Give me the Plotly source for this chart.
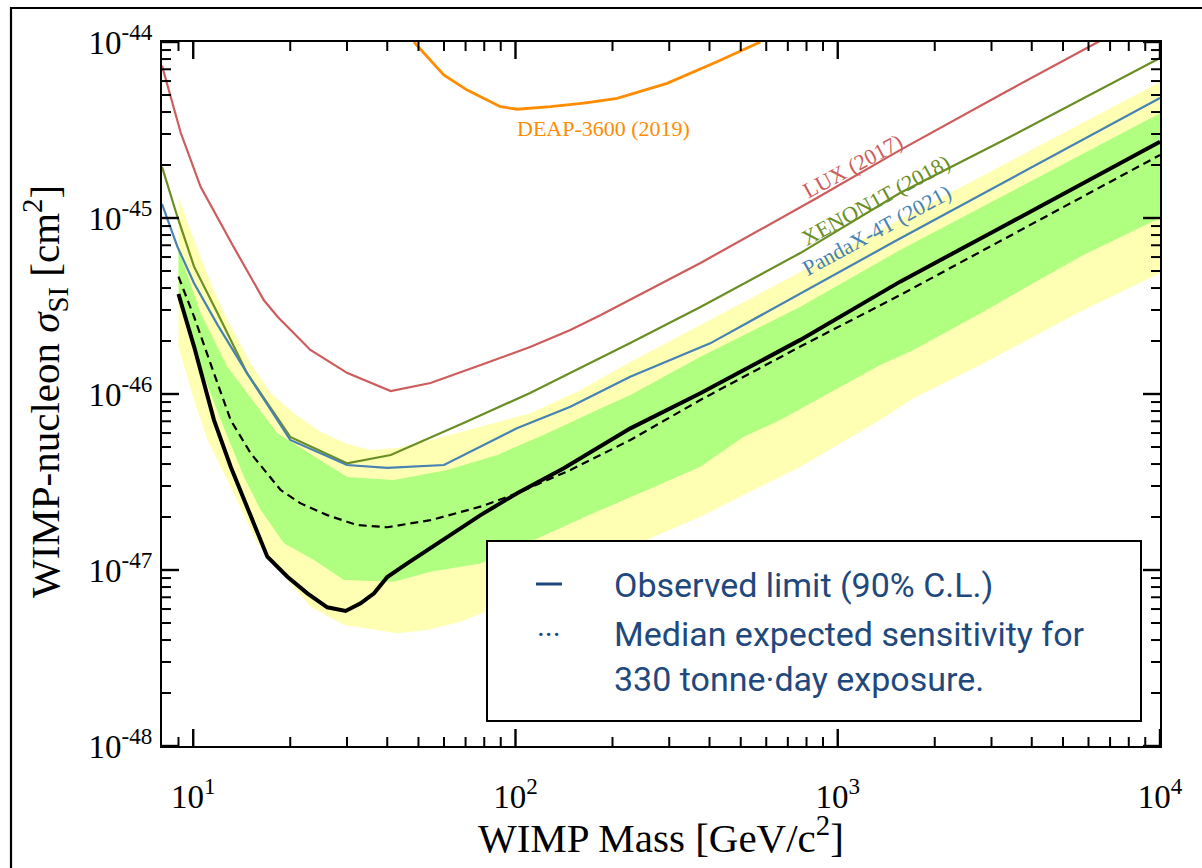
import math
import plotly.graph_objects as go

# ---------------- data ----------------
lux_mass = [8.0, 9.15, 10.55, 13.35, 16.55, 18.3, 23.1, 30.1, 41.0, 54.5, 78.0, 111, 148, 184, 375, 840, 1560, 3190, 6420, 10000]
lux_sigma = [7.33e-45, 3.04e-45, 1.50e-45, 6.84e-46, 3.42e-46, 2.74e-46, 1.78e-46, 1.315e-46, 1.04e-46, 1.155e-46,
             1.46e-46, 1.85e-46, 2.31e-46, 2.81e-46, 5.55e-46, 1.265e-45, 2.43e-45, 5.0e-45, 1.0e-44, 1.56e-44]

xe_mass = [8.0, 8.93, 10.06, 11.9, 14.7, 20.0, 30.0, 41.0, 69.0, 111, 227, 375, 765, 1560, 3190, 10000]
xe_sigma = [1.956e-45, 1.017e-45, 5.29e-46, 2.88e-46, 1.31e-46, 5.70e-47, 4.04e-47, 4.50e-47, 6.84e-47, 1.014e-46,
            1.95e-46, 3.12e-46, 6.32e-46, 1.387e-45, 2.70e-45, 8.11e-45]

pd_mass = [8.0, 8.93, 10.06, 11.9, 14.7, 20.0, 30.0, 40.0, 60.0, 101, 148, 227, 402, 1490, 10000]
pd_sigma = [1.20e-45, 6.87e-46, 4.26e-46, 2.47e-46, 1.31e-46, 5.48e-47, 3.95e-47, 3.80e-47, 3.95e-47, 6.38e-47,
            8.47e-47, 1.253e-46, 1.94e-46, 7.30e-46, 4.81e-45]

deap_mass = [48.4, 59.9, 70.8, 89.8, 101.2, 128.4, 162.8, 206.7, 295.3, 422, 575]
deap_sigma = [1.0e-44, 6.49e-45, 5.33e-45, 4.29e-45, 4.15e-45, 4.29e-45, 4.49e-45, 4.79e-45, 5.82e-45, 7.73e-45, 1.0e-44]

obs_mass = [9.0, 10.06, 11.6, 13.07, 16.98, 19.6, 22.6, 26.06, 29.7, 33.06, 36.4, 40.0, 46.15, 61.4, 77.9, 101.2,
            141.2, 227.3, 374.7, 765.3, 1562, 3191, 10000]
obs_sigma = [3.70e-46, 1.86e-46, 7.11e-47, 3.86e-47, 1.19e-47, 9.16e-48, 7.37e-48, 6.14e-48, 5.85e-48, 6.47e-48,
             7.37e-48, 9.12e-48, 1.09e-47, 1.546e-47, 2.05e-47, 2.73e-47, 3.79e-47, 6.38e-47, 1.009e-46, 2.03e-46,
             4.35e-46, 8.77e-46, 2.71e-45]

med_mass = [9.0, 10.06, 11.6, 13.07, 15.08, 18.67, 21.54, 26.06, 32.3, 40.0, 54.5, 77.9, 101.2, 148.1, 227.3, 374.7,
            765.3, 1562, 10000]
med_sigma = [4.64e-46, 2.75e-46, 1.31e-46, 7.11e-47, 4.60e-47, 2.85e-47, 2.39e-47, 2.05e-47, 1.80e-47, 1.75e-47,
             1.92e-47, 2.29e-47, 2.73e-47, 3.70e-47, 5.48e-47, 9.25e-47, 1.86e-46, 3.65e-46, 2.28e-45]

y2_up_mass = [9.0, 10.06, 11.33, 12.76, 15.08, 17.39, 20.54, 24.85, 30.07, 35.51, 42.98, 54.5, 77.9, 111.3, 159.1,
              227.3, 765.3, 3191, 10000]
y2_up_sigma = [1.321e-45, 7.50e-46, 4.26e-46, 2.63e-46, 1.494e-46, 1.009e-46, 7.77e-47, 6.08e-47, 5.20e-47, 4.81e-47,
               4.93e-47, 5.48e-47, 6.52e-47, 7.77e-47, 1.054e-46, 1.52e-46, 4.93e-46, 1.962e-45, 5.93e-45]
y2_lo_mass = [9.0, 10.06, 11.07, 12.76, 15.82, 19.6, 23.14, 29.35, 37.25, 42.98, 53.24, 67.5, 111.3, 183.5, 262.1,
              374.7, 535.4, 765.3, 1354, 1718, 2766, 5648, 10000]
y2_lo_sigma = [1.857e-46, 9.25e-47, 5.48e-47, 3.25e-47, 1.418e-47, 8.77e-48, 6.19e-48, 4.87e-48, 4.56e-48, 4.37e-48,
               4.56e-48, 5.08e-48, 7.31e-48, 1.044e-47, 1.514e-47, 2.01e-47, 2.79e-47, 3.86e-47, 7.11e-47, 9.45e-47,
               1.462e-46, 2.93e-46, 4.85e-46]

g1_up_mass = [9.0, 10.55, 12.76, 15.82, 18.24, 22.06, 30.07, 41.93, 61.4, 87.77, 125.4, 179.2, 227.3, 374.7, 765.3,
              1562, 10000]
g1_up_sigma = [6.58e-46, 2.87e-46, 1.429e-46, 8.47e-47, 5.98e-47, 4.81e-47, 3.38e-47, 3.25e-47, 3.70e-47, 4.50e-47,
               5.98e-47, 8.11e-47, 9.87e-47, 1.63e-46, 3.13e-46, 6.58e-46, 3.94e-45]
g1_lo_mass = [9.0, 10.06, 12.17, 14.37, 16.2, 19.12, 23.69, 29.35, 41.93, 54.5, 77.9, 119.6, 183.5, 249.9, 374.7,
              510.6, 663.3, 1354, 1718, 2766, 5648, 10000]
g1_lo_sigma = [3.42e-46, 1.778e-46, 7.11e-47, 3.39e-47, 2.19e-47, 1.418e-47, 1.14e-47, 8.77e-48, 8.58e-48, 9.78e-48,
               1.09e-47, 1.54e-47, 2.19e-47, 2.79e-47, 3.86e-47, 5.72e-47, 7.11e-47, 1.462e-46, 1.778e-46, 2.87e-46,
               6.03e-46, 1.0e-45]

x_decades = [1, 2, 3, 4]
x_ticktext = ["10<sup>1</sup>", "10<sup>2</sup>", "10<sup>3</sup>", "10<sup>4</sup>"]
y_decades = [-48, -47, -46, -45, -44]
y_ticktext = ["10<sup>-48</sup>", "10<sup>-47</sup>", "10<sup>-46</sup>", "10<sup>-45</sup>", "10<sup>-44</sup>"]

X_MIN, X_MAX = 8.0, 10000.0
X_RANGE = [math.log10(X_MIN), math.log10(X_MAX)]
Y_RANGE = [-48, -44]

x_tickvals = [10.0 ** d for d in x_decades]
y_tickvals = [10.0 ** d for d in y_decades]
x_minor = [m * 10.0 ** d for d in range(0, 4) for m in range(2, 10) if X_MIN < m * 10.0 ** d < X_MAX]
y_minor = [m * 10.0 ** d for d in range(-48, -44) for m in range(2, 10)]

# ---------------- layout geometry ----------------
W, H = 1202, 868
ML, MR, MT, MB = 162, 42, 42, 122
PW, PH = W - ML - MR, H - MT - MB
MAJOR_LEN, MINOR_LEN = 17, 9


def px(xp):
    return (xp - ML) / PW


def py(yp):
    return (H - MB - yp) / PH


def xpaper(v):
    return (math.log10(v) - X_RANGE[0]) / (X_RANGE[1] - X_RANGE[0])


def ypaper(v):
    return (math.log10(v) - Y_RANGE[0]) / (Y_RANGE[1] - Y_RANGE[0])


SERIF = "Liberation Serif, Times New Roman, serif"
LEG_FONT = "Roboto, sans-serif"
LEG_COLOR = "#1F497D"

fig = go.Figure()

# bands
fig.add_trace(go.Scatter(x=y2_up_mass + y2_lo_mass[::-1], y=y2_up_sigma + y2_lo_sigma[::-1],
                         fill="toself", fillcolor="#FFFFB4", line=dict(width=0), mode="lines",
                         hoverinfo="skip", showlegend=False))
fig.add_trace(go.Scatter(x=g1_up_mass + g1_lo_mass[::-1], y=g1_up_sigma + g1_lo_sigma[::-1],
                         fill="toself", fillcolor="#B0FF80", line=dict(width=0), mode="lines",
                         hoverinfo="skip", showlegend=False))

# other experiments
fig.add_trace(go.Scatter(x=lux_mass, y=lux_sigma, mode="lines", line=dict(color="#CD5C5C", width=2.2),
                         showlegend=False))
fig.add_trace(go.Scatter(x=xe_mass, y=xe_sigma, mode="lines", line=dict(color="#6B8E23", width=2.2),
                         showlegend=False))
fig.add_trace(go.Scatter(x=pd_mass, y=pd_sigma, mode="lines", line=dict(color="#4682B4", width=2.2),
                         showlegend=False))
fig.add_trace(go.Scatter(x=deap_mass, y=deap_sigma, mode="lines", line=dict(color="#FF8C00", width=2.8),
                         showlegend=False))
# this result
fig.add_trace(go.Scatter(x=med_mass, y=med_sigma, mode="lines",
                         line=dict(color="black", width=2.2, dash="8px,5px"), showlegend=False))
fig.add_trace(go.Scatter(x=obs_mass, y=obs_sigma, mode="lines", line=dict(color="black", width=4),
                         showlegend=False))

fig.update_layout(
    xaxis=dict(type="log", range=X_RANGE, tickmode="array", tickvals=x_tickvals, ticktext=x_ticktext,
               showline=True, linecolor="black", linewidth=2, mirror=True,
               ticks="outside", ticklen=20, tickcolor="rgba(0,0,0,0)",
               showgrid=False, zeroline=False,
               tickfont=dict(family=SERIF, size=33, color="black")),
    yaxis=dict(type="log", range=Y_RANGE, tickmode="array", tickvals=y_tickvals, ticktext=y_ticktext,
               showline=True, linecolor="black", linewidth=2, mirror=True,
               ticks="outside", ticklen=1, tickcolor="rgba(0,0,0,0)",
               showgrid=False, zeroline=False,
               tickfont=dict(family=SERIF, size=33, color="black")),
)

shapes = [
    # outer frame
    dict(type="rect", xref="paper", yref="paper", x0=px(11), x1=px(1206), y0=py(880), y1=py(8),
         line=dict(color="black", width=2.2), fillcolor="rgba(0,0,0,0)", layer="above"),
    # legend box
    dict(type="rect", xref="paper", yref="paper", x0=px(487), x1=px(1141), y0=py(721), y1=py(541),
         line=dict(color="black", width=2), fillcolor="white", layer="above"),
    # legend glyph for the observed limit
    dict(type="line", xref="paper", yref="paper", x0=px(536), x1=px(562), y0=py(584), y1=py(584),
         line=dict(color=LEG_COLOR, width=3), layer="above"),
]


# inside tick marks on all four sides (placed from the tick values and axis ranges)
def add_ticks(vals_x, vals_y, length, width):
    lx, ly = length / PW, length / PH
    for v in vals_x:
        p = xpaper(v)
        for y0, y1 in ((0.0, ly), (1.0, 1.0 - ly)):
            shapes.append(dict(type="line", xref="paper", yref="paper", x0=p, x1=p, y0=y0, y1=y1,
                               line=dict(color="black", width=width), layer="above"))
    for v in vals_y:
        p = ypaper(v)
        for x0, x1 in ((0.0, lx), (1.0, 1.0 - lx)):
            shapes.append(dict(type="line", xref="paper", yref="paper", x0=x0, x1=x1, y0=p, y1=p,
                               line=dict(color="black", width=width), layer="above"))


add_ticks(x_minor, y_minor, MINOR_LEN, 2.0)
add_ticks(x_tickvals, y_tickvals, MAJOR_LEN, 2.4)

ann = []
# curve labels
ann.append(dict(x=px(603), y=py(128), text="DEAP-3600 (2019)", font=dict(family=SERIF, size=22, color="#FF8C00")))
ann.append(dict(x=px(852), y=py(166), text="LUX (2017)", textangle=-28.5,
                font=dict(family=SERIF, size=22, color="#CD5C5C")))
ann.append(dict(x=px(875), y=py(200), text="XENON1T (2018)", textangle=-28.5,
                font=dict(family=SERIF, size=22, color="#6B8E23")))
ann.append(dict(x=px(876), y=py(230), text="PandaX-4T (2021)", textangle=-28.5,
                font=dict(family=SERIF, size=22, color="#4682B4")))
# axis titles
ann.append(dict(x=px(661), y=py(835), text="WIMP Mass [GeV/c<sup>2</sup>]",
                font=dict(family=SERIF, size=41, color="black")))
ann.append(dict(x=px(45), y=py(392), text="WIMP-nucleon <i>σ</i><sub>SI</sub> [cm<sup>2</sup>]", textangle=-90,
                font=dict(family=SERIF, size=41, color="black")))
# legend content
ann.append(dict(x=px(549), y=py(634), text="···", font=dict(family=LEG_FONT, size=30, color=LEG_COLOR)))
ann.append(dict(x=px(612), y=py(585), text="Observed limit (90% C.L.)", xanchor="left",
                font=dict(family=LEG_FONT, size=34, color=LEG_COLOR)))
ann.append(dict(x=px(612), y=py(634), text="Median expected sensitivity for", xanchor="left",
                font=dict(family=LEG_FONT, size=34, color=LEG_COLOR)))
ann.append(dict(x=px(612), y=py(679), text="330 tonne·day exposure.", xanchor="left",
                font=dict(family=LEG_FONT, size=34, color=LEG_COLOR)))

for a in ann:
    a.setdefault("xref", "paper")
    a.setdefault("yref", "paper")
    a.setdefault("showarrow", False)
    a.setdefault("xanchor", "center")
    a.setdefault("yanchor", "middle")

fig.update_layout(
    width=W, height=H, margin=dict(l=ML, r=MR, t=MT, b=MB),
    paper_bgcolor="white", plot_bgcolor="white",
    shapes=shapes, annotations=ann, showlegend=False,
)

fig.write_html("out.html")
